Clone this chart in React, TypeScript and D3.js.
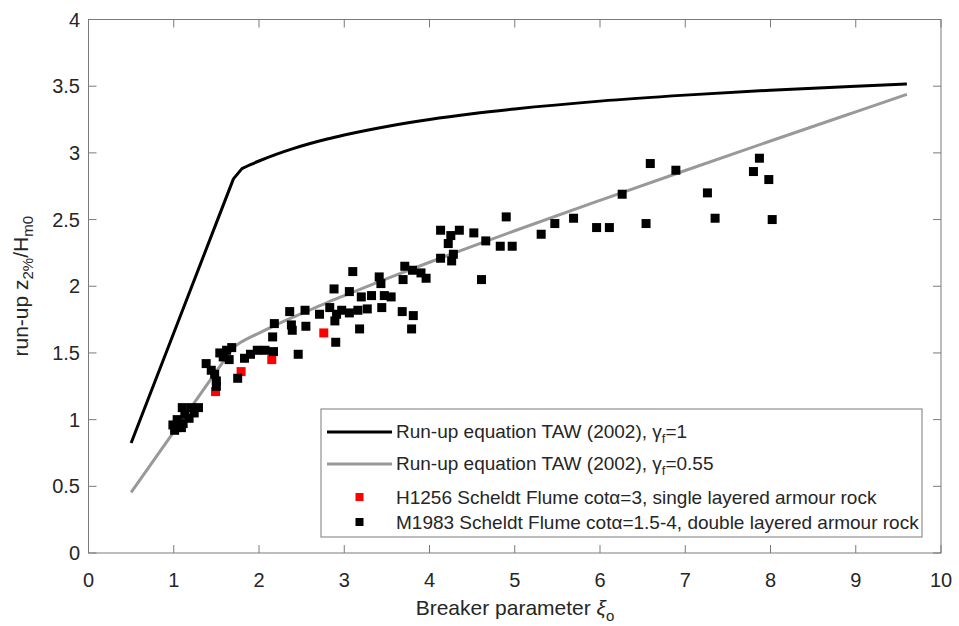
import React from 'react';
import * as d3 from 'd3';

// Curves (TAW 2002 run-up equations)
const curveXi = [0.5, 1.0, 1.5, 1.7, 1.8, 1.9, 2.0, 2.2, 2.4, 2.6, 2.8, 3.0, 3.5, 4.0, 4.5, 5.0, 6.0, 7.0, 8.0, 9.0, 9.6];
const curveGamma1 = [0.825, 1.65, 2.475, 2.805, 2.882, 2.912, 2.939, 2.989, 3.032, 3.07, 3.104, 3.134, 3.198, 3.25, 3.293, 3.329, 3.388, 3.433, 3.47, 3.5, 3.516];
const curveGamma055 = [0.454, 0.908, 1.361, 1.543, 1.585, 1.618, 1.649, 1.71, 1.768, 1.823, 1.878, 1.93, 2.057, 2.18, 2.299, 2.416, 2.644, 2.868, 3.089, 3.308, 3.439];
const kinkXi = 1.8;

// H1256 (red)
const redXi = [1.49, 1.79, 2.15, 2.76];
const redRu = [1.21, 1.36, 1.45, 1.65];

// M1983 (black)
const blackXi = [
  0.99, 1.01, 1.03, 1.09, 1.04, 1.10, 1.11, 1.13, 1.18, 1.20, 1.24, 1.29,
  1.38, 1.44, 1.48, 1.50, 1.50, 1.54, 1.58, 1.62, 1.65, 1.68, 1.75, 1.83, 1.90, 1.98, 2.07, 2.17, 2.16, 2.18,
  2.36, 2.38, 2.39, 2.46, 2.54, 2.55, 2.71, 2.83, 2.88, 2.89, 2.90, 2.91, 2.97, 3.06, 3.06, 3.10, 3.16, 3.18,
  3.20, 3.27, 3.32, 3.41, 3.43, 3.44, 3.47, 3.55, 3.68, 3.69, 3.71, 3.79, 3.80, 3.81, 3.90, 3.96,
  4.13, 4.13, 4.22, 4.25, 4.26, 4.28, 4.35, 4.52, 4.61, 4.66, 4.83, 4.90, 4.97, 5.31, 5.47, 5.69, 5.96,
  6.11, 6.26, 6.54, 6.59, 6.89, 7.26, 7.35, 7.80, 7.87, 7.98, 8.02,
];
const blackRu = [
  0.96, 0.92, 0.94, 0.94, 1.00, 1.09, 0.97, 1.04, 1.01, 1.09, 1.05, 1.09,
  1.42, 1.37, 1.34, 1.29, 1.25, 1.50, 1.47, 1.52, 1.45, 1.54, 1.31, 1.46, 1.49, 1.52, 1.52, 1.51, 1.62, 1.72,
  1.81, 1.71, 1.67, 1.49, 1.82, 1.70, 1.79, 1.84, 1.98, 1.74, 1.58, 1.79, 1.82, 1.96, 1.80, 2.11, 1.82, 1.68,
  1.92, 1.83, 1.93, 2.07, 2.02, 1.84, 1.93, 1.92, 1.81, 2.05, 2.15, 1.68, 2.12, 1.78, 2.10, 2.06,
  2.42, 2.21, 2.32, 2.38, 2.19, 2.24, 2.42, 2.40, 2.05, 2.34, 2.30, 2.52, 2.30, 2.39, 2.47, 2.51, 2.44,
  2.44, 2.69, 2.47, 2.92, 2.87, 2.70, 2.51, 2.86, 2.96, 2.80, 2.50,
];

const xTicks = [0, 1, 2, 3, 4, 5, 6, 7, 8, 9, 10];
const yTicks = [0, 0.5, 1, 1.5, 2, 2.5, 3, 3.5, 4];
const yTickLabels = ['0', '0.5', '1', '1.5', '2', '2.5', '3', '3.5', '4'];

const W = 959;
const H = 626;
const L = 88.5, R = 941, T = 19.5, B = 553;
const FONT = '"Liberation Sans", Arial, Helvetica, sans-serif';
const AXIS = '#7a7a7a';
const TXT = '#262626';

export default function App() {
  const x = d3.scaleLinear().domain([0, 10]).range([L, R]);
  const y = d3.scaleLinear().domain([0, 4]).range([B, T]);
  const lin = d3
    .line<[number, number]>()
    .x((d) => x(d[0]))
    .y((d) => y(d[1]));
  const smooth = d3
    .line<[number, number]>()
    .x((d) => x(d[0]))
    .y((d) => y(d[1]))
    .curve(d3.curveMonotoneX);
  const mk = (vals: number[]) => curveXi.map((v, i) => [v, vals[i]] as [number, number]);
  const pathFor = (vals: number[]) => {
    const pts = mk(vals);
    const a = pts.filter((p) => p[0] <= kinkXi);
    const b = pts.filter((p) => p[0] >= kinkXi);
    return (lin(a) || '') + (smooth(b) || '').replace(/^M/, 'L');
  };
  const ms = 9;
  const tickLen = 8;

  const legX = 321, legY = 409, legW = 601, legH = 128;
  const rows = [432, 464, 497, 522];
  const txtX = 396;

  return (
    <svg
      width={W}
      height={H}
      style={{ position: 'absolute', left: 0, top: 0, display: 'block', background: '#fff' }}
      fontFamily={FONT}
    >
      <rect x={0} y={0} width={W} height={H} fill="#fff" />
      {/* curves */}
      <path d={pathFor(curveGamma1)} fill="none" stroke="#000" strokeWidth={3} strokeLinejoin="round" />
      <path d={pathFor(curveGamma055)} fill="none" stroke="#999999" strokeWidth={3} strokeLinejoin="round" />
      {/* red points */}
      {redXi.map((v, i) => (
        <rect key={'r' + i} x={x(v) - ms / 2} y={y(redRu[i]) - ms / 2} width={ms} height={ms} fill="#ff0000" />
      ))}
      {/* black points */}
      {blackXi.map((v, i) => (
        <rect key={'b' + i} x={x(v) - ms / 2} y={y(blackRu[i]) - ms / 2} width={ms} height={ms} fill="#000" />
      ))}

      {/* axes box */}
      <rect x={L} y={T} width={R - L} height={B - T} fill="none" stroke={AXIS} strokeWidth={1} />
      {xTicks.map((t) => (
        <g key={'xt' + t}>
          <line x1={x(t)} x2={x(t)} y1={B} y2={B - tickLen} stroke={AXIS} />
          <line x1={x(t)} x2={x(t)} y1={T} y2={T + tickLen} stroke={AXIS} />
          <text x={x(t)} y={587} textAnchor="middle" fontSize={20} fill={TXT}>
            {t}
          </text>
        </g>
      ))}
      {yTicks.map((t, i) => (
        <g key={'yt' + t}>
          <line x1={L} x2={L + tickLen} y1={y(t)} y2={y(t)} stroke={AXIS} />
          <line x1={R} x2={R - tickLen} y1={y(t)} y2={y(t)} stroke={AXIS} />
          <text x={80} y={y(t) + 7} textAnchor="end" fontSize={20} fill={TXT}>
            {yTickLabels[i]}
          </text>
        </g>
      ))}

      {/* x label */}
      <text x={515} y={615} textAnchor="middle" fontSize={21} fill={TXT}>
        Breaker parameter <tspan fontStyle="italic">ξ</tspan>
        <tspan fontSize={15} dy={6}>o</tspan>
      </text>
      {/* y label */}
      <text transform={`translate(28,${(T + B) / 2}) rotate(-90)`} textAnchor="middle" fontSize={21} fill={TXT}>
        run-up z<tspan fontSize={15} dy={5}>2%</tspan>
        <tspan dy={-5}>/H</tspan>
        <tspan fontSize={15} dy={5}>m0</tspan>
      </text>

      {/* legend */}
      <rect x={legX} y={legY} width={legW} height={legH} fill="#fff" stroke={AXIS} strokeWidth={1} />
      <line x1={327} x2={392} y1={rows[0]} y2={rows[0]} stroke="#000" strokeWidth={3} />
      <line x1={327} x2={392} y1={rows[1]} y2={rows[1]} stroke="#999999" strokeWidth={3} />
      <rect x={359.5 - 4} y={rows[2] - 4} width={8} height={8} fill="#ff0000" />
      <rect x={359.5 - 4} y={rows[3] - 4} width={8} height={8} fill="#000" />
      <text x={txtX} y={rows[0] + 6} fontSize={19} fill={TXT}>
        Run-up equation TAW (2002), γ<tspan fontSize={13} dy={5}>f</tspan>
        <tspan dy={-5}>=1</tspan>
      </text>
      <text x={txtX} y={rows[1] + 6} fontSize={19} fill={TXT}>
        Run-up equation TAW (2002), γ<tspan fontSize={13} dy={5}>f</tspan>
        <tspan dy={-5}>=0.55</tspan>
      </text>
      <text x={txtX} y={rows[2] + 7} fontSize={19} fill={TXT}>
        H1256 Scheldt Flume cotα=3, single layered armour rock
      </text>
      <text x={txtX} y={rows[3] + 7} fontSize={19} fill={TXT}>
        M1983 Scheldt Flume cotα=1.5-4, double layered armour rock
      </text>
    </svg>
  );
}
